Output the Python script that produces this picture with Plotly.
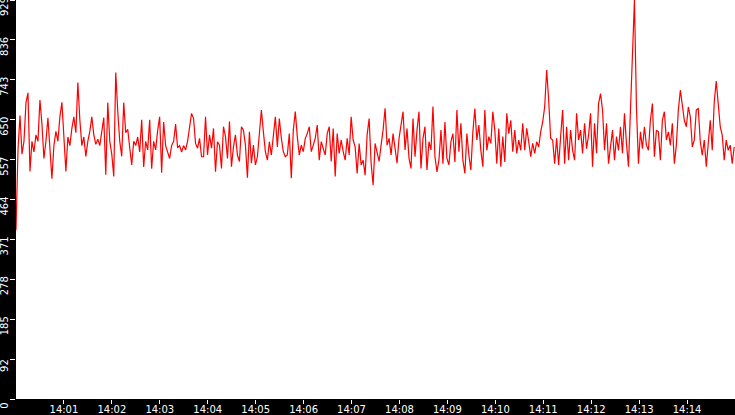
import pandas as pd
import plotly.graph_objects as go

# values, left to right (roughly one sample every 2.5 s)
seg1 = [393, 580, 660, 570, 600, 690, 713, 530, 600, 575, 615, 600, 696, 640, 560, 600,
        655, 580, 513, 590, 623, 600, 657, 691, 600, 530, 610, 590, 630, 657, 620, 737,
        650, 590, 610, 565, 600, 623, 657, 615, 593, 605, 590, 630, 655, 522, 690, 600,
        570, 518, 760, 670, 600, 565, 690, 620, 628, 585, 545, 600, 590, 610, 575, 650,
        540, 600, 580, 650, 536, 600, 580, 625, 657, 527, 645, 590, 575, 560, 590, 600,
        640, 585, 590, 575, 590, 580, 600, 637]
seg2 = [665, 653, 595, 584, 607, 564, 564, 657, 568, 615, 584, 630, 529, 599, 591, 537,
        634, 611, 560, 646, 541, 587, 615, 568, 553, 634, 626, 591, 515, 622, 549, 591,
        545, 564, 615, 673, 622, 576, 556, 599, 568, 611, 657, 587, 653, 607, 576, 564,
        568, 618, 514, 626, 669, 611, 568, 591, 576, 607, 618, 634, 576, 591]
seg3 = [607, 638, 556, 599, 580, 568, 618, 634, 553, 630, 518, 618, 572, 603, 576, 556,
        607, 568, 657, 603, 587, 525, 595, 545, 556, 521, 615, 653, 549, 498, 595, 572,
        553, 591, 626, 677, 591, 607, 568, 618, 587, 549, 607, 638, 669, 580, 630, 560,
        537, 653, 564, 626, 669, 537, 607, 634, 533, 599, 580, 681, 564, 529]
seg4 = [556, 626, 548, 645, 560, 545, 599, 618, 552, 673, 576, 642, 556, 525, 618, 568,
        533, 622, 676, 603, 638, 579, 541, 673, 579, 611, 595, 669, 626, 548, 630, 541,
        611, 552, 665, 618, 649, 576, 626, 572, 603, 579, 642, 579, 630, 599, 564, 595,
        572, 599, 587, 622, 645, 680, 766, 696, 607, 603, 548, 607, 545, 611]
seg5 = [673, 548, 634, 556, 626, 579, 556, 665, 603, 626, 572, 642, 583, 614, 665, 541,
        642, 572, 688, 711, 673, 579, 642, 548, 587, 626, 556, 611, 579, 634, 572, 665,
        595, 541, 673, 820, 929, 680, 548, 622, 583, 634, 591, 579, 649, 688, 564, 626,
        622, 556, 649, 669, 603, 622, 591, 642, 548, 591, 673, 719, 688, 649, 634, 680,
        657, 587, 603, 673, 676, 599, 568, 603, 541, 595, 649, 579, 692, 740, 688, 634,
        614, 556, 603, 579, 591, 548, 587]
values = seg1 + seg2 + seg3 + seg4 + seg5

times = pd.date_range("2024-01-01 14:00:00", "2024-01-01 14:14:59", periods=len(values))

y_max = 929
y_ticks = [y_max * i / 10 for i in range(11)]
y_labels = [str(int(v)) for v in y_ticks]

x_ticks = ["2024-01-01 14:%02d:00" % m for m in range(1, 15)]
x_labels = ["14:%02d" % m for m in range(1, 15)]

fig = go.Figure()
fig.add_trace(go.Scatter(x=times, y=values, mode="lines",
                         line=dict(color="#ff0000", width=1.2), hoverinfo="skip"))

fig.update_layout(
    width=735, height=415,
    margin=dict(l=16, r=0, t=0, b=16),
    paper_bgcolor="black",
    plot_bgcolor="white",
    showlegend=False,
    font=dict(family="DejaVu Sans", size=10, color="white"),
)
fig.update_xaxes(
    range=["2024-01-01 14:00:00", "2024-01-01 14:15:00"],
    tickvals=x_ticks, ticktext=x_labels,
    ticks="outside", ticklen=4, tickcolor="white", tickwidth=1,
    ticklabelstandoff=-3,
    showgrid=False, zeroline=False, showline=False, automargin=False,
    tickfont=dict(size=10, color="white"),
)
fig.update_yaxes(
    range=[0, y_max],
    tickvals=y_ticks, ticktext=y_labels,
    tickangle=-90, ticklabelshift=8, ticklabelstandoff=-2,
    ticklabeloverflow="allow",
    ticks="outside", ticklen=5, tickcolor="white", tickwidth=1,
    showgrid=False, zeroline=False, showline=False, automargin=False,
    tickfont=dict(size=10, color="white"),
)

# drop the page's default body margin so the chart fills the window
fig.write_html("out.html", config={"displayModeBar": False},
               post_script="document.body.style.margin='0';")
